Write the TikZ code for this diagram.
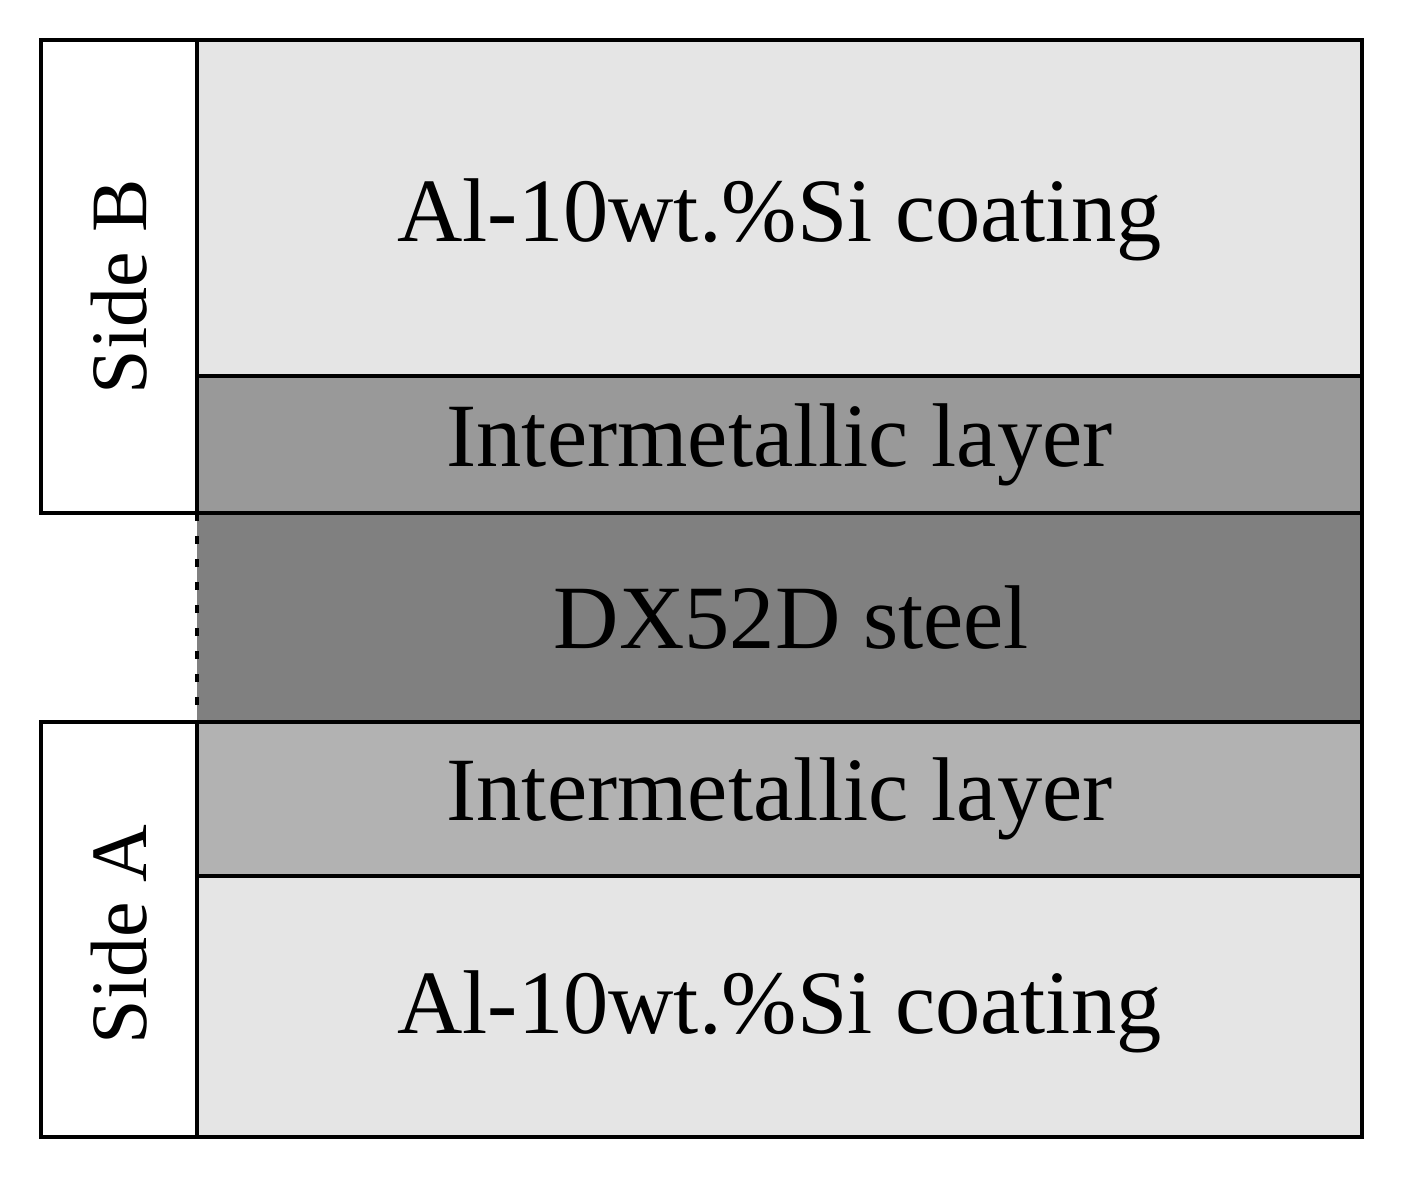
\documentclass[tikz,border=0pt]{standalone}
\usepackage{fontspec}
\setmainfont{Liberation Serif}
\usepackage{tikz}
\usetikzlibrary{positioning}
\definecolor{coatgray}{gray}{0.90}
\definecolor{imBgray}{gray}{0.60}
\definecolor{steelgray}{gray}{0.50}
\definecolor{imAgray}{gray}{0.70}

\begin{document}
\begin{tikzpicture}
\tikzstyle{layer}=[rectangle, draw=black, line width=2.4pt, minimum width=23.3cm, inner sep=0pt, outer sep=0pt]
\tikzstyle{layertext}=[font=\fontsize{51.5}{60}\selectfont]
\tikzstyle{sidebox}=[rectangle, draw=black, line width=2.4pt, fill=white, minimum width=3.12cm, inner sep=0pt, outer sep=0pt]
\tikzstyle{sidetext}=[rotate=90, font=\fontsize{45.5}{54}\selectfont]
  \useasboundingbox (0,0) rectangle (28.28,-23.78);
  % the layers, top (side B) to bottom (side A)
  \node[layer, fill=coatgray, minimum height=6.72cm, anchor=north west] (coatB) at (3.94,-0.8) {};
  \node[layer, fill=imBgray, minimum height=2.74cm, below=0pt of coatB] (imB) {};
  \node[layer, fill=steelgray, draw=none, minimum height=4.18cm, below=0pt of imB] (steel) {};
  \node[layer, fill=imAgray, minimum height=3.08cm, below=0pt of steel] (imA) {};
  \node[layer, fill=coatgray, minimum height=5.22cm, below=0pt of imA] (coatA) {};
  \draw[line width=2.4pt] (steel.north west) -- (steel.north east) -- (steel.south east);
  \draw[line width=2.2pt, dash pattern=on 0.15cm off 0.31cm] (steel.north west) -- (steel.south west);

  \node[layertext] (txtcoatB) at ([yshift=-0.24cm]coatB.center) {Al-10wt.\%Si coating};
  \node[layertext] (txtimB) at (imB.center) {Intermetallic layer};
  \node[layertext] (txtsteel) at ([xshift=0.24cm]steel.center) {DX52D steel};
  \node[layertext] (txtimA) at (imA.center) {Intermetallic layer};
  \node[layertext] (txtcoatA) at ([yshift=-0.1cm]coatA.center) {Al-10wt.\%Si coating};

  % side boxes
  \node[sidebox, minimum height=9.46cm, anchor=north east] (sideB) at (coatB.north west) {};
  \node[sidebox, minimum height=8.3cm, anchor=north east] (sideA) at (imA.north west) {};
  \node[sidetext] (labB) at ([yshift=-0.2cm]sideB.center) {Side B};
  \node[sidetext] (labA) at ([yshift=-0.1cm]sideA.center) {Side A};
\end{tikzpicture}
\end{document}
